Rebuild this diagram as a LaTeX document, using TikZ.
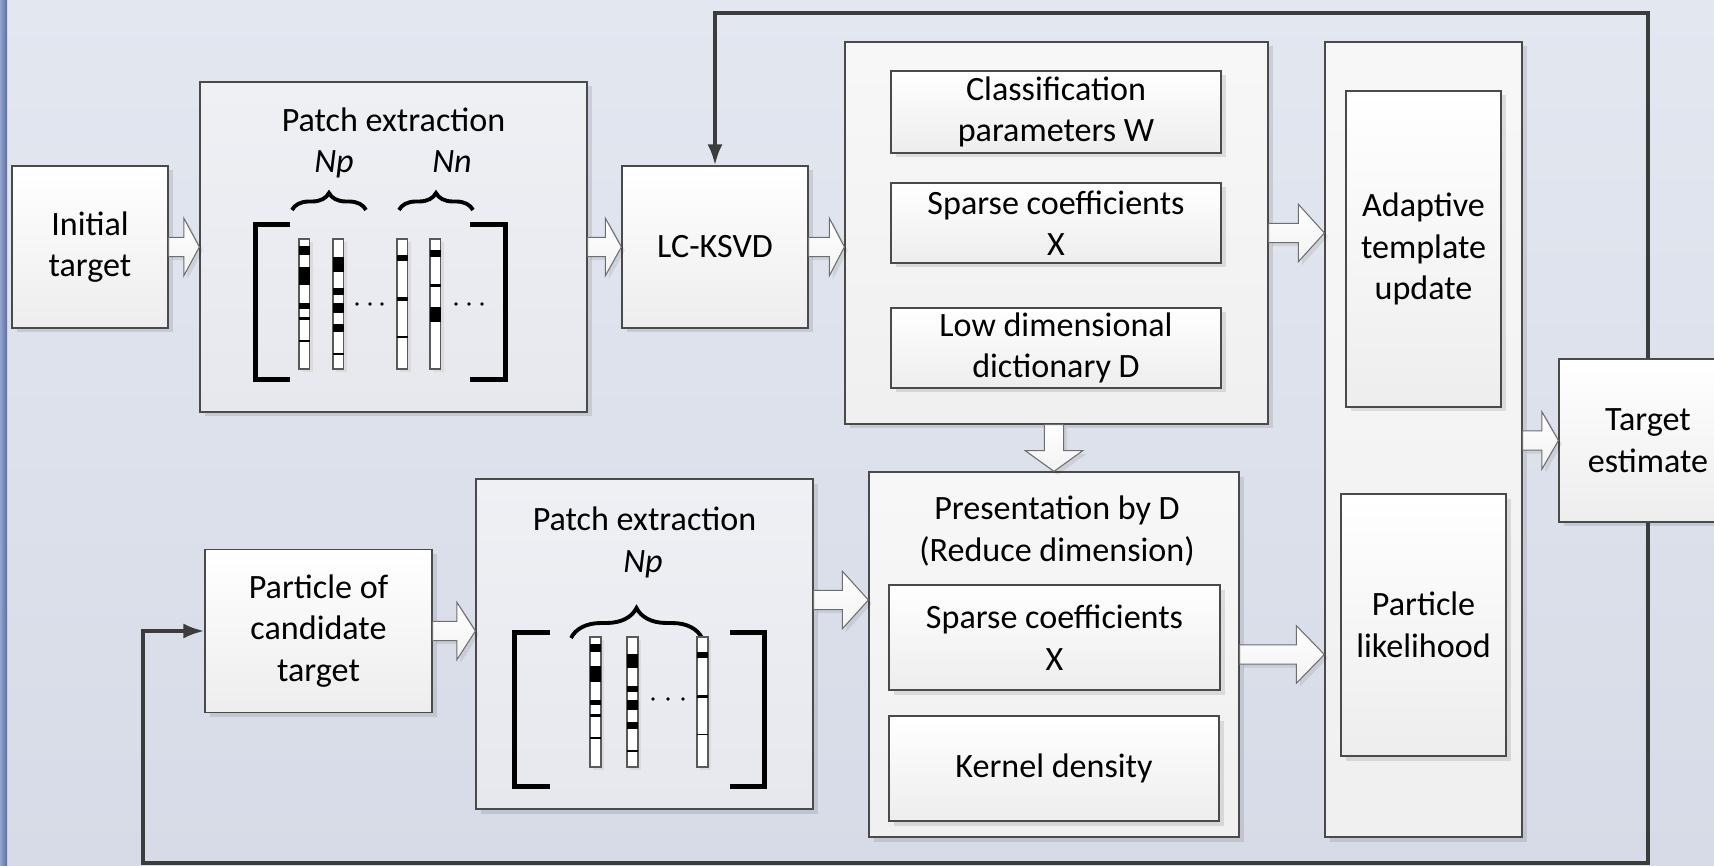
\documentclass[tikz,border=0pt]{standalone}
\usepackage{fontspec}
\setmainfont{Carlito}
\usetikzlibrary{calc,shadows,decorations.pathreplacing,arrows.meta}

\definecolor{bgtop}{HTML}{E3E7F0}
\definecolor{bgbot}{HTML}{D7DBE7}
\definecolor{barlight}{HTML}{93A4CF}
\definecolor{bardark}{HTML}{5E6E9E}
\definecolor{boxline}{HTML}{4A4A4A}
\definecolor{loopline}{HTML}{3C3C3C}
\definecolor{patchtop}{HTML}{EFF0F4}
\definecolor{patchbot}{HTML}{E6E8EE}

\newcommand\boxfont{\fontsize{9.7}{11.8}\selectfont}

% block arrow, left to right: from, to, head length
\newcommand\hflow[3]{%
  \draw[flow] let \p1=(#1), \p2=(#2) in
    (\x1,{\y1+0.97mm}) -- ({\x2-#3},{\y1+0.97mm}) -- ({\x2-#3},{\y1+2.87mm})
    -- (\x2,\y1) -- ({\x2-#3},{\y1-2.87mm}) -- ({\x2-#3},{\y1-0.97mm})
    -- (\x1,{\y1-0.97mm}) -- cycle;}
% block arrow, top to bottom: from, to, head length
\newcommand\vflow[3]{%
  \draw[flow] let \p1=(#1), \p2=(#2) in
    ({\x2-0.97mm},\y1) -- ({\x2-0.97mm},{\y2+#3}) -- ({\x2-2.87mm},{\y2+#3})
    -- (\x2,\y2) -- ({\x2+2.87mm},{\y2+#3}) -- ({\x2+0.97mm},{\y2+#3})
    -- ({\x2+0.97mm},\y1) -- cycle;}
% one patch vector: left, top, width, black bands
\newcommand\patchstrip[4]{%
  \fill[black!14] (#1+3,#2+3) rectangle (#1+#3+3,#2+133);
  \draw[strip] (#1,#2) rectangle (#1+#3,#2+130);
  \foreach \a/\b in {#4}
    \fill (#1,#2+\a) rectangle (#1+#3,#2+\b);}

\tikzset{
  box/.style={draw=boxline,line width=0.35pt,top color=white,bottom color=black!7,
    align=center,font=\boxfont,inner sep=0pt,
    drop shadow={shadow xshift=0.45mm,shadow yshift=-0.45mm,fill=black,opacity=0.1}},
  group/.style={box,top color=white!97!black,bottom color=white!94!black},
  patchbox/.style={box,top color=patchtop,bottom color=patchbot},
  flow/.style={draw=boxline!80,line width=0.3pt,top color=white,bottom color=black!5,
    drop shadow={shadow xshift=0.35mm,shadow yshift=-0.35mm,fill=black,opacity=0.08}},
  feedback/.style={draw=loopline,line width=1pt,-{Latex[length=2.1mm,width=1.5mm]}},
  strip/.style={draw=black!65,fill=white,line width=0.3pt},
  bracket/.style={line width=0.5mm},
  patchbrace/.style={decorate,line width=1.1pt},
}

\begin{document}
\begin{tikzpicture}[x=0.1mm,y=-0.1mm]
  \path[use as bounding box] (0,0) rectangle (1714,866);
  \clip (0,0) rectangle (1714,866);
  \shade[top color=bgtop,bottom color=bgbot] (0,0) rectangle (1714,866);
  \shade[left color=barlight,right color=bardark] (0,0) rectangle (7,866);

  % training row
  \node[box,minimum width=15.6mm,minimum height=16.2mm] (init) at (90,247) {Initial\\target};
  \node[patchbox,minimum width=38.7mm,minimum height=33mm] (patchA) at (393.5,247) {};
  \node[box,minimum width=18.6mm,minimum height=16.2mm] (lcksvd) at (715,247) {LC-KSVD};
  \node[group,minimum width=42.3mm,minimum height=38.2mm] (dict) at (1056.5,233) {};
  \node[box,minimum width=33mm,minimum height=8.2mm] (clsW) at (1056,112) {Classification\\parameters W};
  \node[box,minimum width=33mm,minimum height=8mm] (sparseA) at (1056,223) {Sparse coefficients\\X};
  \node[box,minimum width=33mm,minimum height=8mm] (lowD) at (1056,348) {Low dimensional\\dictionary D};

  % update column and output
  \node[group,minimum width=19.7mm,minimum height=79.5mm] (update) at (1423.5,439.5) {};
  \node[box,minimum width=15.5mm,minimum height=31.6mm] (adapt) at (1423.5,249) {Adaptive\\template\\update};
  \node[box,minimum width=16.5mm,minimum height=26.2mm] (likeli) at (1423.5,625) {Particle\\likelihood};
  \node[box,minimum width=17.8mm,minimum height=16.3mm] (target) at (1648,440.5) {Target\\estimate};

  % tracking row
  \node[box,minimum width=22.7mm,minimum height=16.3mm] (particle) at (318.5,631) {Particle of\\candidate\\target};
  \node[patchbox,minimum width=33.7mm,minimum height=33mm] (patchB) at (644.5,644) {};
  \node[group,minimum width=37mm,minimum height=36.5mm] (present) at (1054,654.5) {};
  \node[box,minimum width=33.1mm,minimum height=10.5mm] (sparseB) at (1054.5,637.5) {Sparse coefficients\\X};
  \node[box,minimum width=33mm,minimum height=10.5mm] (kernel) at (1054,768.5) {Kernel density};
  \node[font=\boxfont,align=center] at (1057,531) {Presentation by D\\(Reduce dimension)};

  % patches of the target
  \node[font=\boxfont,anchor=base] at (393.5,132) {Patch extraction};
  \node[font=\boxfont,anchor=base] at (334,173) {\textit{Np}};
  \node[font=\boxfont,anchor=base] at (452,173) {\textit{Nn}};
  \draw[patchbrace,decoration={brace,amplitude=1.7mm}] (292,210) -- (366,210);
  \draw[patchbrace,decoration={brace,amplitude=1.7mm}] (399,210) -- (473,210);
  \draw[bracket] (290,224.5) -- (255.5,224.5) -- (255.5,379.5) -- (290,379.5);
  \draw[bracket] (470,224.5) -- (505.5,224.5) -- (505.5,379.5) -- (470,379.5);
  \patchstrip{299}{239}{10.5}{7/16,28/46,64/70,78/81,101/103}
  \patchstrip{333}{239}{10.5}{18/33,49/56,64/74,85/93,114/116}
  \patchstrip{397}{239}{10.5}{16/22,58/62,97/99}
  \patchstrip{430}{239}{10.5}{11/18,45/48,68/83}
  \foreach \x in {357,370,382,456,469,482}
    \fill (\x,304) circle[radius=0.19mm];

  % patches of a candidate
  \node[font=\boxfont,anchor=base] at (644.5,530) {Patch extraction};
  \node[font=\boxfont,anchor=base] at (643,572) {\textit{Np}};
  \draw[patchbrace,decoration={brace,amplitude=3mm}] (571,638) -- (702,638);
  \draw[bracket] (550,632.5) -- (514.5,632.5) -- (514.5,786.5) -- (550,786.5);
  \draw[bracket] (730,632.5) -- (764.5,632.5) -- (764.5,786.5) -- (730,786.5);
  \patchstrip{590}{637}{11}{7/15,29/45,63/68,77/80,100/102}
  \patchstrip{627}{637}{11}{17/31,49/55,63/73,85/92,113/115}
  \patchstrip{697}{637}{11}{15/21,58/61,97/98}
  \foreach \x in {653,668,683}
    \fill (\x,699) circle[radius=0.19mm];

  % block arrows
  \hflow{init.east}{patchA.west}{1.55mm}
  \hflow{patchA.east}{lcksvd.west}{1.6mm}
  \hflow{lcksvd.east}{dict.west |- lcksvd.east}{1.5mm}
  \hflow{dict.east}{update.west |- dict.east}{2.6mm}
  \hflow{update.east |- target.west}{target.west}{1.65mm}
  \hflow{particle.east}{patchB.west |- particle.east}{1.85mm}
  \hflow{$(patchB.east)+(0,-44)$}{present.west |- 0,600}{2.6mm}
  \hflow{present.east}{update.west |- present.east}{2.8mm}
  \vflow{dict.south}{present.north}{2.07mm}

  % feedback loops
  \coordinate (toprail) at (0,13);
  \coordinate (bottomleft) at (143,863);
  \draw[feedback] (target.north) -- (target.north |- toprail) -| (lcksvd.north);
  \draw[feedback] (target.south) |- (bottomleft) |- (particle.west);
\end{tikzpicture}
\end{document}
